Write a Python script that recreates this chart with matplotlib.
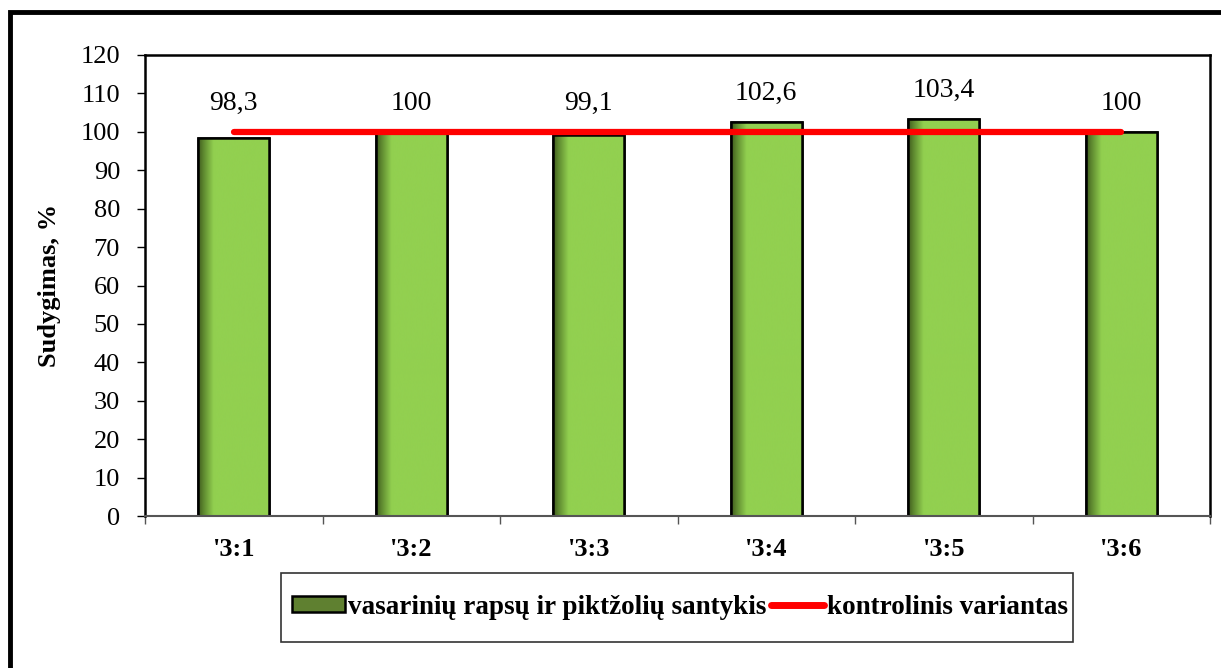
import numpy as np
import matplotlib
matplotlib.use("Agg")
import matplotlib.pyplot as plt
from matplotlib.colors import LinearSegmentedColormap
from matplotlib.patches import Patch, Rectangle
from matplotlib.lines import Line2D

plt.rcParams["font.family"] = ["Liberation Serif", "DejaVu Serif"]

# Duomenys
santykiai = ["'3:1", "'3:2", "'3:3", "'3:4", "'3:5", "'3:6"]
sudygimas = [98.3, 100, 99.1, 102.6, 103.4, 100]
etiketes = ["98,3", "100", "99,1", "102,6", "103,4", "100"]
kontrole = [100, 100, 100, 100, 100, 100]

W, H = 1221, 668
fig = plt.figure(figsize=(W / 100, H / 100), dpi=100)
ax = fig.add_axes([0.1188, 0.2275, 0.8722, 0.6902])

x = np.arange(len(santykiai))
plotis = 0.4
stulpeliai = ax.bar(x, sudygimas, width=plotis, color="#92D050",
                    edgecolor="black", linewidth=1.8, zorder=2)

# gradientas stulpeliuose: tamsesnis kairysis kraštas
cmap = LinearSegmentedColormap.from_list(
    "zalia", [(0.0, "#3f5a1e"), (0.08, "#5f8a30"), (0.22, "#92D050"), (1.0, "#92D050")])
grad = np.linspace(0, 1, 256).reshape(1, -1)
for st in stulpeliai:
    x0, y0 = st.get_x(), st.get_y()
    w, h = st.get_width(), st.get_height()
    im = ax.imshow(grad, cmap=cmap, aspect="auto", extent=[x0, x0 + w, y0, y0 + h],
                   zorder=2.1, interpolation="bicubic")
    im.set_clip_path(st)
    kontur = Rectangle((x0, y0), w, h, fill=False, edgecolor="black",
                       linewidth=1.8, zorder=2.2)
    ax.add_patch(kontur)

ax.plot(x, kontrole, color="red", linewidth=4.5, solid_capstyle="round", zorder=3)

for xi, v, t in zip(x, sudygimas, etiketes):
    ax.text(xi, max(v, 100) + 7.5, t, ha="center", va="center", fontsize=20, zorder=4)

ax.set_xlim(-0.5, len(santykiai) - 0.5)
ax.set_ylim(0, 120)
ax.set_yticks(range(0, 121, 10))
ax.tick_params(axis="y", labelsize=19, length=6, width=1, direction="out", pad=12)
ax.set_xticks(x)
ax.set_xticklabels(santykiai, fontsize=19, fontweight="bold")
ax.set_xticks(np.arange(-0.5, len(santykiai)), minor=True)
ax.tick_params(axis="x", which="major", length=0, pad=16)
ax.tick_params(axis="x", which="minor", length=6, width=1, color="#555555")
ax.set_ylabel("Sudygimas, %", fontsize=19, fontweight="bold", labelpad=14)

for s in ["left", "top", "right"]:
    ax.spines[s].set_linewidth(1.8)
    ax.spines[s].set_color("black")
ax.spines["bottom"].set_color("#555555")
ax.spines["bottom"].set_linewidth(1.5)

# legenda su atskirai nupieštu rėmeliu
rankenos = [Patch(facecolor="#5f8030", edgecolor="black", linewidth=1.8),
            Line2D([0], [0], color="red", linewidth=5, solid_capstyle="round")]
pavad = ["vasarinių rapsų ir piktžolių santykis", "kontrolinis variantas"]
fig.legend(rankenos, pavad, loc="center", bbox_to_anchor=(680 / W, 1 - 607 / H),
           ncol=2, prop={"weight": "bold", "size": 19.5},
           frameon=False, handlelength=1.95, handleheight=0.5,
           handletextpad=0.1, columnspacing=0.2, borderpad=0, borderaxespad=0)
fig.patches.append(Rectangle((281 / W, 1 - 642 / H), (1073 - 281) / W, 69 / H,
                             transform=fig.transFigure, fill=False,
                             edgecolor="#333333", linewidth=1.2))

# išorinis rėmelis
fig.patches.append(Rectangle((10 / W, -0.1), 1.2, 1 - 12 / H + 0.1,
                             transform=fig.transFigure, fill=False,
                             edgecolor="black", linewidth=3.5))

fig.savefig("out.png", dpi=100)
